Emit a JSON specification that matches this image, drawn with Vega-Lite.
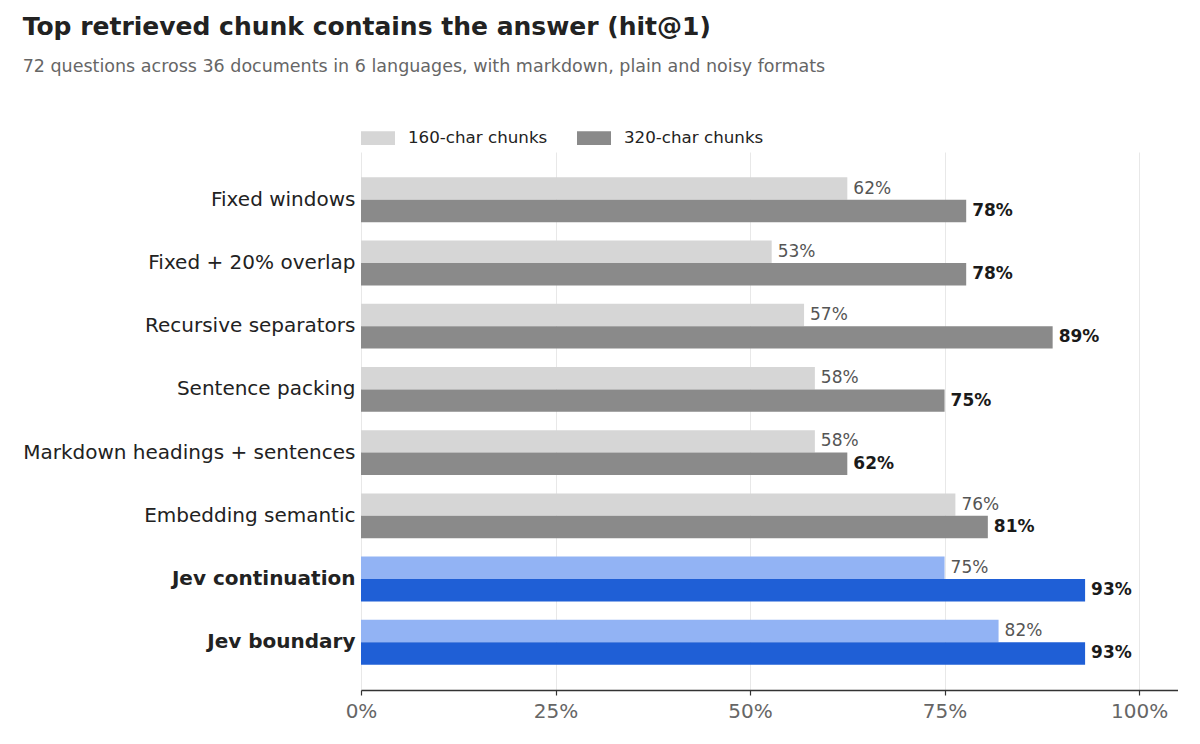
{
 "$schema": "https://vega.github.io/schema/vega-lite/v6.json",
 "width": 817,
 "height": 538,
 "padding": {"left": 22, "top": 14, "right": 0, "bottom": 10},
 "background": "white",
 "title": {
  "text": "Top retrieved chunk contains the answer (hit@1)",
  "subtitle": "72 questions across 36 documents in 6 languages, with markdown, plain and noisy formats",
  "anchor": "start", "frame": "bounds",
  "font": "DejaVu Sans", "fontSize": 25, "fontWeight": "bold", "color": "#222222",
  "subtitleFont": "DejaVu Sans", "subtitleFontSize": 17.5, "subtitleColor": "#666666",
  "subtitlePadding": 18, "offset": 46
 },
 "data": {"values": [
  {"method": "Fixed windows", "chunk": "160-char chunks", "group": "baseline", "hit": 0.625, "label": "62%"},
  {"method": "Fixed windows", "chunk": "320-char chunks", "group": "baseline", "hit": 0.7778, "label": "78%"},
  {"method": "Fixed + 20% overlap", "chunk": "160-char chunks", "group": "baseline", "hit": 0.5278, "label": "53%"},
  {"method": "Fixed + 20% overlap", "chunk": "320-char chunks", "group": "baseline", "hit": 0.7778, "label": "78%"},
  {"method": "Recursive separators", "chunk": "160-char chunks", "group": "baseline", "hit": 0.5694, "label": "57%"},
  {"method": "Recursive separators", "chunk": "320-char chunks", "group": "baseline", "hit": 0.8889, "label": "89%"},
  {"method": "Sentence packing", "chunk": "160-char chunks", "group": "baseline", "hit": 0.5833, "label": "58%"},
  {"method": "Sentence packing", "chunk": "320-char chunks", "group": "baseline", "hit": 0.75, "label": "75%"},
  {"method": "Markdown headings + sentences", "chunk": "160-char chunks", "group": "baseline", "hit": 0.5833, "label": "58%"},
  {"method": "Markdown headings + sentences", "chunk": "320-char chunks", "group": "baseline", "hit": 0.625, "label": "62%"},
  {"method": "Embedding semantic", "chunk": "160-char chunks", "group": "baseline", "hit": 0.7639, "label": "76%"},
  {"method": "Embedding semantic", "chunk": "320-char chunks", "group": "baseline", "hit": 0.8056, "label": "81%"},
  {"method": "Jev continuation", "chunk": "160-char chunks", "group": "jev", "hit": 0.75, "label": "75%"},
  {"method": "Jev continuation", "chunk": "320-char chunks", "group": "jev", "hit": 0.9306, "label": "93%"},
  {"method": "Jev boundary", "chunk": "160-char chunks", "group": "jev", "hit": 0.8194, "label": "82%"},
  {"method": "Jev boundary", "chunk": "320-char chunks", "group": "jev", "hit": 0.9306, "label": "93%"}
 ]},
 "encoding": {
  "y": {
   "field": "method", "type": "nominal",
   "sort": ["Fixed windows", "Fixed + 20% overlap", "Recursive separators", "Sentence packing", "Markdown headings + sentences", "Embedding semantic", "Jev continuation", "Jev boundary"],
   "scale": {"paddingInner": 0.29, "paddingOuter": 0.4},
   "axis": {
    "title": null, "domain": false, "ticks": false, "labelPadding": 6,
    "labelFont": "DejaVu Sans", "labelFontSize": 20, "labelColor": "#222222", "labelLimit": 400,
    "labelFontWeight": {"condition": {"test": "indexof(datum.value, 'Jev') === 0", "value": "bold"}, "value": "normal"}
   }
  },
  "yOffset": {"field": "chunk", "type": "nominal", "sort": ["160-char chunks", "320-char chunks"], "scale": {"paddingInner": 0, "paddingOuter": 0}},
  "x": {
   "field": "hit", "type": "quantitative",
   "scale": {"domain": [0, 1.05], "nice": false},
   "axis": {
    "title": null, "values": [0, 0.25, 0.5, 0.75, 1], "format": ".0%",
    "grid": true, "gridColor": "#e8e8e8", "gridWidth": 1,
    "domainColor": "#333333", "domainWidth": 1.5, "tickColor": "#333333", "tickSize": 5, "tickWidth": 1.2,
    "labelFont": "DejaVu Sans", "labelFontSize": 20, "labelColor": "#666666", "labelPadding": 6,
    "labelFlush": false, "labelOverlap": false
   }
  }
 },
 "layer": [
  {
   "mark": {"type": "bar"},
   "encoding": {
    "color": {
     "field": "chunk", "type": "nominal",
     "scale": {"domain": ["160-char chunks", "320-char chunks"], "range": ["#d6d6d6", "#8a8a8a"]},
     "legend": {
      "orient": "top", "title": null, "offset": 5,
      "symbolType": "M-1,-0.41L1,-0.41L1,0.41L-1,0.41Z", "symbolSize": 1156, "symbolStrokeWidth": 0,
      "labelFont": "DejaVu Sans", "labelFontSize": 16.7, "labelColor": "#222222", "labelOffset": 13,
      "columnPadding": 29
     },
     "condition": [
      {"test": "datum.group === 'jev' && datum.chunk === '160-char chunks'", "value": "#92b3f4"},
      {"test": "datum.group === 'jev' && datum.chunk === '320-char chunks'", "value": "#1f5fd6"}
     ]
    }
   }
  },
  {
   "transform": [{"filter": "datum.chunk === '160-char chunks'"}],
   "mark": {"type": "text", "align": "left", "baseline": "middle", "dx": 6, "font": "DejaVu Sans", "fontSize": 17, "color": "#555555"},
   "encoding": {"text": {"field": "label"}}
  },
  {
   "transform": [{"filter": "datum.chunk === '320-char chunks'"}],
   "mark": {"type": "text", "align": "left", "baseline": "middle", "dx": 6, "font": "DejaVu Sans", "fontSize": 17, "fontWeight": "bold", "color": "#1a1a1a"},
   "encoding": {"text": {"field": "label"}}
  }
 ],
 "config": {"view": {"stroke": null}}
}
